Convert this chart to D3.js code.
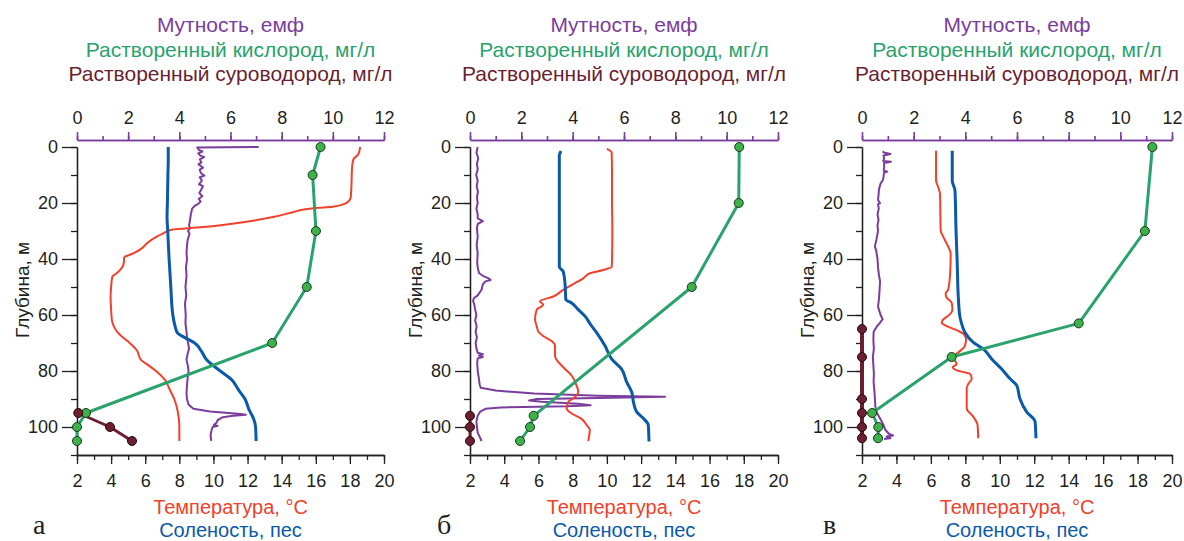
<!DOCTYPE html>
<html><head><meta charset="utf-8">
<script src="https://cdn.jsdelivr.net/npm/d3@7"></script>
<style>body{margin:0;background:#fff}svg{display:block;font-family:"Liberation Sans",Arial,sans-serif}</style>
</head><body><svg id="chart" width="1184" height="541"></svg>
<script>
// ---- tick labels / axis domains ----
const topTicks = [0,1,2,3,4,5,6,7,8,9,10,11,12];
const topLabels = [0,2,4,6,8,10,12];
const bottomTicks = [2,3,4,5,6,7,8,9,10,11,12,13,14,15,16,17,18,19,20];
const bottomLabels = [2,4,6,8,10,12,14,16,18,20];
const depthTicks = [0,10,20,30,40,50,60,70,80,90,100,110];
const depthLabels = [0,20,40,60,80,100];
const panelLetters = ["а","б","в"];

// ---- series: [depth m, value] ----
const tempA = [[0,18.6],[2.5,18.5],[4.5,18.2],[8,18.12],[12,18.1],[18,18.05],[19.5,17.9],[20.5,17.6],[21.3,17.0],[21.8,16.0],[22.3,15.3],[23.2,14.7],[25,13.5],[27.3,11.2],[28.7,9.2],[29.5,7.6],[31,7.0],[32,6.67],[34.4,6.1],[36.2,5.8],[38,5.3],[39.5,4.76],[41,4.75],[42.7,4.68],[45.1,4.33],[46.3,4.07],[50,4.0],[54,3.97],[58,4.0],[62,4.05],[64.5,4.2],[66.5,4.42],[69.5,5.0],[72.5,5.5],[76,5.75],[78,6.2],[80.2,6.67],[83.2,7.16],[86.8,7.45],[90,7.7],[92.7,7.84],[96,7.95],[100,8.0],[105,8.0]];
const salA = [[0,7.35],[5,7.35],[10,7.33],[20,7.3],[25,7.28],[30,7.32],[40,7.4],[50,7.5],[60,7.62],[64,7.75],[66.5,7.9],[68,8.3],[70,8.9],[73,9.3],[76,9.6],[80,10.4],[83,11.05],[87,11.5],[90,11.85],[94,12.1],[97,12.35],[100,12.47],[105,12.5]];
const turbA = [[0,7.1],[0.2,4.7],[1,4.76],[1.6,4.9],[2.3,4.74],[3.1,4.82],[3.6,4.97],[4.4,4.8],[5.5,4.86],[6.2,4.75],[7.4,4.93],[8.1,4.8],[9.3,4.84],[10.2,4.98],[10.8,4.8],[12,4.88],[13.3,4.77],[14,4.92],[15.5,4.84],[16.4,4.78],[17.6,4.9],[18.5,4.76],[19.5,4.83],[20.3,4.74],[21,4.6],[22,4.5],[24,4.45],[26,4.42],[28,4.38],[29,4.42],[30,4.34],[31,4.4],[33,4.33],[35,4.3],[38,4.28],[40,4.3],[43,4.26],[46,4.28],[50,4.24],[53,4.27],[56,4.22],[60,4.25],[63,4.24],[66,4.28],[68,4.3],[70,4.34],[72,4.38],[74,4.32],[76,4.28],[78,4.33],[80,4.36],[82,4.33],[85,4.3],[88,4.28],[90,4.3],[92,4.36],[93.5,4.55],[94.5,5.2],[95.3,6.3],[95.6,6.6],[96,6.1],[96.5,5.7],[97.5,5.5],[98.5,5.45],[99.3,5.35],[99.6,5.5],[100,5.3],[101.5,5.25],[103,5.22],[105,5.25]];
const oxyA = [[0,9.52],[10,9.21],[30,9.34],[50,8.98],[70,7.63],[95,0.35],[100,0],[105,0]];
const h2sA = [[95,0.05],[100,1.29],[105,2.15]];

const tempB = [[0.7,10.0],[2,10.28],[10,10.3],[20,10.3],[30,10.32],[40,10.3],[42.8,10.28],[43.9,9.79],[45.1,9.01],[46.9,8.62],[48.6,8.14],[51,7.45],[53.4,6.87],[55.1,6.09],[56.3,6.28],[58.1,5.9],[61.6,5.8],[64,5.9],[66,6.0],[67.5,6.28],[69.3,6.77],[71,6.97],[74.6,6.97],[78.1,7.36],[81.6,7.94],[85.2,8.23],[87.5,8.33],[89.5,8.1],[91,7.75],[93.4,7.65],[95,7.9],[97,8.5],[99.3,8.82],[101,9.0],[105,8.91]];
const salB = [[1.4,7.32],[3,7.22],[10,7.22],[20,7.22],[30,7.22],[40,7.22],[42.8,7.22],[44.5,7.45],[48.6,7.55],[54.5,7.6],[55.7,7.94],[58.1,8.33],[60.4,8.72],[63,9.0],[66.3,9.4],[71,9.89],[75.7,10.28],[79.3,10.86],[84,11.16],[87.5,11.45],[91,11.55],[94.6,11.74],[96.9,12.13],[99.3,12.42],[105.2,12.46]];
const turbB = [[0,0.3],[2,0.25],[4,0.32],[6,0.27],[8,0.3],[10,0.24],[12,0.3],[14,0.26],[16,0.31],[18,0.27],[20,0.3],[22,0.25],[24,0.3],[25.5,0.3],[26.5,0.5],[27.5,0.3],[29,0.27],[32,0.3],[35,0.26],[38,0.3],[41,0.28],[43,0.3],[45,0.35],[46,0.5],[47,0.75],[47.5,0.8],[48,0.6],[49,0.5],[51,0.45],[53,0.3],[54,0.15],[55,0.12],[56,0.16],[58,0.2],[60,0.25],[62,0.2],[64,0.26],[66,0.22],[68,0.27],[70,0.22],[72,0.25],[73.5,0.3],[74,0.5],[74.5,0.35],[75,0.5],[75.5,0.3],[77,0.28],[80,0.3],[83,0.35],[85,0.38],[86,0.42],[87,1.0],[88,2.5],[88.8,5.0],[89.2,7.6],[89.6,5.0],[90,2.6],[90.5,2.3],[91,2.8],[91.7,4.2],[92.2,4.7],[92.6,3.8],[93,1.2],[93.5,0.6],[94.5,0.4],[96,0.3],[98,0.25],[100,0.27],[102,0.3],[104,0.4],[105,0.45]];
const oxyB = [[0,10.49],[20,10.47],[50,8.64],[96,2.48],[100,2.34],[105,1.95]];
const h2sB = [[96,0],[100,0],[105,0]];

const tempC = [[1.3,6.3],[12,6.3],[14.4,6.43],[16.8,6.53],[29.8,6.57],[32.1,6.72],[34.5,6.92],[36.9,7.1],[38,7.15],[45,7.12],[51,7.0],[52.2,6.86],[53.4,6.88],[55.7,7.21],[58.1,7.25],[59.8,7.1],[61.6,6.72],[62.8,6.63],[64,6.92],[65.7,7.59],[66.9,7.92],[68.7,8.04],[71,7.98],[73.4,7.59],[75.1,7.3],[77.5,7.5],[78.7,7.27],[79.8,7.5],[81,8.27],[82.8,8.37],[84.6,8.17],[86.3,8.08],[93.4,8.08],[96.3,8.46],[99.3,8.71],[104,8.75]];
const salC = [[1.3,7.24],[12,7.24],[15.6,7.4],[29.8,7.46],[41.6,7.53],[53.4,7.59],[60.4,7.68],[63,7.78],[66.3,7.98],[69.8,8.46],[72.2,9.05],[75.7,9.53],[79.3,10.11],[82.8,10.6],[85.2,10.99],[89.9,11.17],[94.6,11.56],[98.1,12.05],[104,12.1]];
const turbC = [[1.5,0.8],[2,0.85],[2.5,1.1],[3,0.83],[4,0.86],[5,0.82],[5.3,1.12],[5.7,0.85],[7,0.86],[8.5,0.84],[8.8,0.98],[9.2,0.85],[11,0.83],[12,0.8],[13,0.72],[15,0.66],[17,0.64],[19,0.62],[20,0.7],[20.5,0.62],[22,0.65],[24,0.6],[26,0.64],[28,0.6],[30,0.62],[33,0.56],[35.5,0.5],[37,0.55],[40,0.6],[43,0.62],[46,0.66],[48,0.7],[51,0.68],[54,0.66],[57,0.62],[60,0.72],[61.5,0.8],[63,0.68],[64,0.58],[66,0.45],[69,0.44],[72,0.46],[75,0.42],[78,0.44],[81,0.46],[84,0.45],[87,0.48],[90,0.5],[93,0.52],[95,0.58],[97,0.7],[99,0.82],[101,0.9],[102.5,1.05],[103,1.2],[103.4,0.95],[104,1.1],[104.3,0.85]];
const oxyC = [[0,11.24],[30,10.95],[63,8.39],[75,3.47],[95,0.39],[100,0.63],[104,0.62]];
const h2sC = [[65,0],[75,0],[90,0],[95,0],[100,0],[104,0]];

// ---- layout ----
const layout = [
  {x0:77, x1:384, lx:33},
  {x0:470, x1:778, lx:437},
  {x0:862, x1:1172, lx:823}
];
const seriesSets = [
  {temp:tempA, sal:salA, turb:turbA, oxy:oxyA, h2s:h2sA, hw:3},
  {temp:tempB, sal:salB, turb:turbB, oxy:oxyB, h2s:h2sB, hw:3},
  {temp:tempC, sal:salC, turb:turbC, oxy:oxyC, h2s:h2sC, hw:4}
];
const COL = {purple:"#7a3d9c", green:"#2aa26c", dot:"#3cb34a", maroon:"#6b1f2f", red:"#f0412b", blue:"#0b59a9", ink:"#231f20"};

const svg = d3.select("#chart");
svg.append("rect").attr("width",1184).attr("height",541).attr("fill","#fff");
const y = d3.scaleLinear().domain([0,110]).range([147,455]);

layout.forEach((L, i) => {
  const S = seriesSets[i];
  const xTop = d3.scaleLinear().domain([0,12]).range([L.x0, L.x1]);
  const xBot = d3.scaleLinear().domain([2,20]).range([L.x0, L.x1]);
  const g = svg.append("g");
  const cx = (L.x0 + L.x1) / 2;

  // titles
  const titles = [["Мутность, емф",COL.purple,32],["Растворенный кислород, мг/л",COL.green,57],["Растворенный суроводород, мг/л",COL.maroon,81]];
  titles.forEach(t => g.append("text").attr("x",cx).attr("y",t[2]).attr("text-anchor","middle")
    .attr("font-size",21).attr("fill",t[1]).text(t[0]));
  g.append("text").attr("x",cx).attr("y",514).attr("text-anchor","middle").attr("font-size",20).attr("fill",COL.red).text("Температура, °С");
  g.append("text").attr("x",cx).attr("y",536.5).attr("text-anchor","middle").attr("font-size",20).attr("fill",COL.blue).text("Соленость, пес");
  g.append("text").attr("x",L.lx).attr("y",534).attr("font-family","'Liberation Serif','Times New Roman',serif").attr("font-size",28).attr("fill",COL.ink).text(panelLetters[i]);
  g.append("text").attr("transform",`translate(${L.x0-55},290) rotate(-90)`).attr("text-anchor","middle").attr("dy","0.35em")
    .attr("font-size",19).attr("fill",COL.ink).text("Глубина, м");

  // top axis (purple)
  const topMinor = g.append("g").attr("transform","translate(0,140)")
    .call(d3.axisTop(xTop).tickValues(topTicks).tickSize(4).tickSizeOuter(0).tickFormat(""));
  const topMajor = g.append("g").attr("transform","translate(0,140)")
    .call(d3.axisTop(xTop).tickValues(topLabels).tickSize(8).tickSizeOuter(0).tickPadding(8).tickFormat(d3.format("d")));
  [topMinor, topMajor].forEach(a => { a.selectAll("path,line").attr("stroke",COL.purple).attr("stroke-width",1.6); });

  // bottom axis
  const botMinor = g.append("g").attr("transform","translate(0,455)")
    .call(d3.axisBottom(xBot).tickValues(bottomTicks).tickSize(5).tickSizeOuter(0).tickFormat(""));
  const botMajor = g.append("g").attr("transform","translate(0,455)")
    .call(d3.axisBottom(xBot).tickValues(bottomLabels).tickSize(9).tickSizeOuter(0).tickPadding(10).tickFormat(d3.format("d")));
  [botMinor, botMajor].forEach(a => { a.selectAll("path,line").attr("stroke",COL.ink).attr("stroke-width",1.3); });

  // left axis
  const leftMinor = g.append("g").attr("transform",`translate(${L.x0},0)`)
    .call(d3.axisLeft(y).tickValues(depthTicks).tickSize(6).tickSizeOuter(0).tickFormat(""));
  const leftMajor = g.append("g").attr("transform",`translate(${L.x0},0)`)
    .call(d3.axisLeft(y).tickValues(depthLabels).tickSize(15).tickSizeOuter(0).tickPadding(4).tickFormat(d3.format("d")));
  [leftMinor, leftMajor].forEach(a => { a.selectAll("path,line").attr("stroke",COL.ink).attr("stroke-width",1.3); });

  [topMajor, botMajor, leftMajor].forEach(a => a.selectAll("text").attr("font-size",18).attr("fill",COL.ink));
  [topMinor,topMajor,botMinor,botMajor,leftMinor,leftMajor].forEach(a=>a.attr("font-family",null).attr("font-size",null));

  // series
  const lineTop = d3.line().x(d => xTop(d[1])).y(d => y(d[0]));
  const lineBotSmooth = d3.line().x(d => xBot(d[1])).y(d => y(d[0])).curve(d3.curveMonotoneY);

  g.append("path").datum(S.turb).attr("d",lineTop).attr("fill","none").attr("stroke",COL.purple).attr("stroke-width",2).attr("stroke-linejoin","round");
  g.append("path").datum(S.temp).attr("d",lineBotSmooth).attr("fill","none").attr("stroke",COL.red).attr("stroke-width",2).attr("stroke-linejoin","round");
  g.append("path").datum(S.sal).attr("d",lineBotSmooth).attr("fill","none").attr("stroke",COL.blue).attr("stroke-width",3).attr("stroke-linejoin","round");

  g.append("path").datum(S.oxy).attr("d",lineTop).attr("fill","none").attr("stroke",COL.green).attr("stroke-width",3).attr("stroke-linejoin","round");
  g.append("path").datum(S.h2s).attr("d",lineTop).attr("fill","none").attr("stroke",COL.maroon).attr("stroke-width",S.hw).attr("stroke-linejoin","round");

  g.selectAll(null).data(S.oxy).enter().append("circle")
    .attr("cx",d => xTop(d[1])).attr("cy",d => y(d[0])).attr("r",4.5)
    .attr("fill",COL.dot).attr("stroke","#1f3320").attr("stroke-width",1);
  g.selectAll(null).data(S.h2s).enter().append("circle")
    .attr("cx",d => xTop(d[1])).attr("cy",d => y(d[0])).attr("r",4.5)
    .attr("fill",COL.maroon).attr("stroke","#2a0a12").attr("stroke-width",1);
});
</script>
</body></html>
